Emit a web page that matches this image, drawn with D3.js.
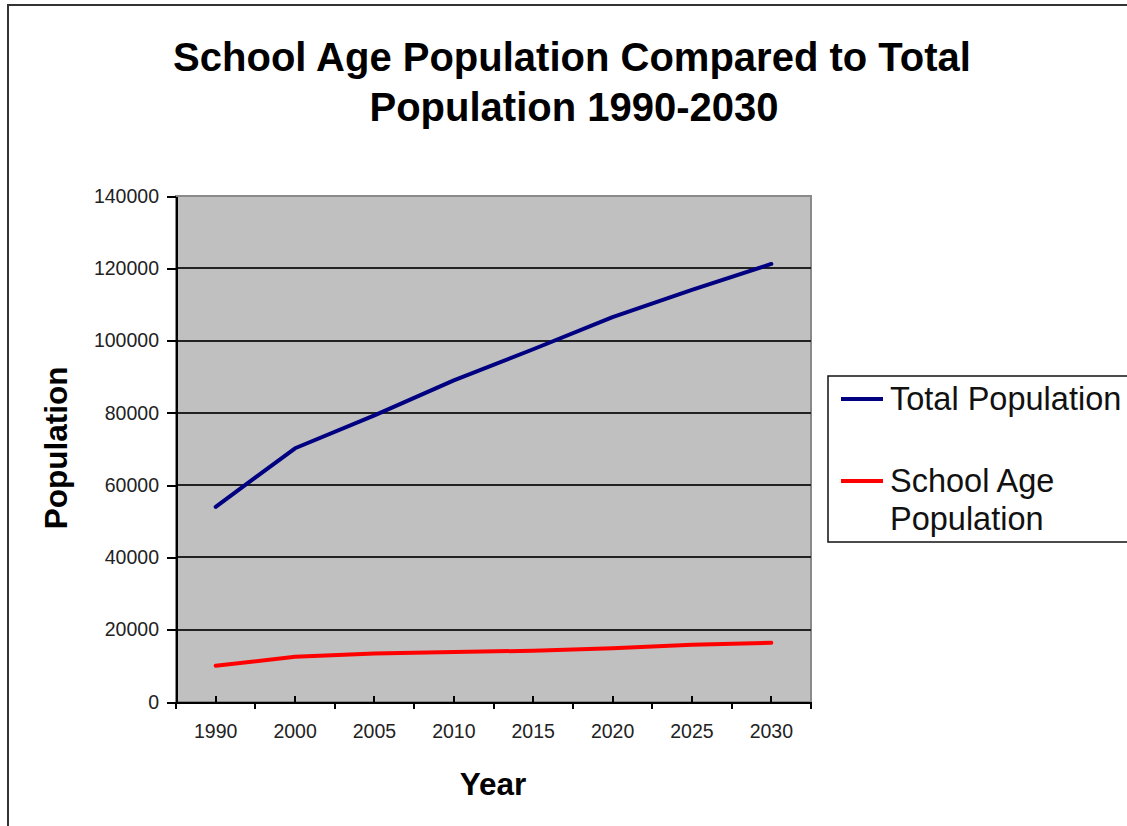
<!DOCTYPE html>
<meta charset="utf-8">
<style>
body {
  margin: 0;
  background-color: #fff;
}
.axis text {
  font-family: "Liberation Sans", Arial, sans-serif;
  font-size: 19.5px;
  fill: #222;
}
.axis path,
.axis line {
  stroke: #000;
  stroke-width: 2px;
  shape-rendering: crispEdges;
}
.grid line {
  stroke: #222;
  stroke-width: 2px;
  shape-rendering: crispEdges;
}
.line {
  fill: none;
  stroke-width: 4px;
  stroke-linejoin: round;
  stroke-linecap: round;
}
.title {
  font-family: "Liberation Sans", Arial, sans-serif;
  font-weight: bold;
  fill: #000;
}
.legend text {
  font-family: "Liberation Sans", Arial, sans-serif;
  font-size: 32.5px;
  fill: #111;
}
</style>
<body>
<script src="https://d3js.org/d3.v7.min.js"></script>
<script>
// School age population vs total population, 1990-2030
var years = ["1990", "2000", "2005", "2010", "2015", "2020", "2025", "2030"];
var totalPop = [54000, 70200, 79300, 89000, 97600, 106500, 114000, 121200];
var schoolPop = [10050, 12500, 13400, 13800, 14200, 14900, 15850, 16400];
var yTicks = [0, 20000, 40000, 60000, 80000, 100000, 120000, 140000];
var seriesNames = ["Total Population", "School Age Population"];
var seriesColors = ["#000080", "#FF0000"];

var svg = d3.select("body")
    .append("svg")
    .attr("width", 1127)
    .attr("height", 826);

var plot = {left: 176, right: 811, top: 196, bottom: 702};

// outer chart border (runs off the right/bottom edges)
svg.append("rect")
    .attr("x", 8)
    .attr("y", 5)
    .attr("width", 1140)
    .attr("height", 840)
    .attr("fill", "#fff")
    .attr("stroke", "#333")
    .attr("stroke-width", 2);

var x = d3.scaleBand().domain(years).range([plot.left, plot.right]).padding(0);
var y = d3.scaleLinear().domain([0, 140000]).range([plot.bottom, plot.top]);

// plot area
svg.append("rect")
    .attr("x", plot.left)
    .attr("y", plot.top)
    .attr("width", plot.right - plot.left)
    .attr("height", plot.bottom - plot.top)
    .attr("fill", "#C0C0C0")
    .attr("stroke", "#8a8a8a")
    .attr("stroke-width", 2);

// horizontal gridlines
svg.append("g")
    .attr("class", "grid")
    .selectAll("line")
    .data(yTicks.filter(function(d) { return d > 0 && d < 140000; }))
    .enter().append("line")
      .attr("x1", plot.left)
      .attr("x2", plot.right)
      .attr("y1", function(d) { return y(d); })
      .attr("y2", function(d) { return y(d); });

// y axis
svg.append("g")
    .attr("class", "axis axis--y")
    .attr("transform", "translate(" + plot.left + ",0)")
    .call(d3.axisLeft(y).tickValues(yTicks).tickFormat(d3.format("d"))
      .tickSize(9).tickPadding(8).tickSizeOuter(0));

// x axis: labels at category centres, ticks on category boundaries
var xAxis = svg.append("g")
    .attr("class", "axis axis--x")
    .attr("transform", "translate(0," + plot.bottom + ")")
    .call(d3.axisBottom(x).tickSize(0).tickPadding(22).tickSizeOuter(0));

xAxis.selectAll(".tick line").remove();

var bounds = years.map(function(d) { return x(d); }).concat([plot.right]);
xAxis.selectAll(".bound")
    .data(bounds)
    .enter().append("line")
      .attr("class", "bound")
      .attr("x1", function(d) { return d; })
      .attr("x2", function(d) { return d; })
      .attr("y1", 0)
      .attr("y2", 7);

xAxis.selectAll(".mid")
    .data(years)
    .enter().append("line")
      .attr("class", "mid")
      .attr("x1", function(d) { return x(d) + x.bandwidth() / 2; })
      .attr("x2", function(d) { return x(d) + x.bandwidth() / 2; })
      .attr("y1", -6)
      .attr("y2", 0);

// series lines
var line = d3.line()
    .x(function(d, i) { return x(years[i]) + x.bandwidth() / 2; })
    .y(function(d) { return y(d); });

[totalPop, schoolPop].forEach(function(series, k) {
  svg.append("path")
      .datum(series)
      .attr("class", "line")
      .attr("stroke", seriesColors[k])
      .attr("d", line);
});

// titles
svg.append("text")
    .attr("class", "title")
    .attr("x", 572)
    .attr("y", 71)
    .attr("text-anchor", "middle")
    .style("font-size", "40px")
    .text("School Age Population Compared to Total");

svg.append("text")
    .attr("class", "title")
    .attr("x", 574)
    .attr("y", 121)
    .attr("text-anchor", "middle")
    .style("font-size", "40px")
    .text("Population 1990-2030");

svg.append("text")
    .attr("class", "title")
    .attr("transform", "translate(67,448) rotate(-90)")
    .attr("text-anchor", "middle")
    .style("font-size", "31.5px")
    .text("Population");

svg.append("text")
    .attr("class", "title")
    .attr("x", 493)
    .attr("y", 795)
    .attr("text-anchor", "middle")
    .style("font-size", "31.5px")
    .text("Year");

// legend
var legend = svg.append("g").attr("class", "legend");

legend.append("rect")
    .attr("x", 828)
    .attr("y", 376)
    .attr("width", 320)
    .attr("height", 166)
    .attr("fill", "#fff")
    .attr("stroke", "#111")
    .attr("stroke-width", 1.5);

var legendRows = [
  {y: 399, lines: ["Total Population"]},
  {y: 481, lines: ["School Age", "Population"]}
];

legendRows.forEach(function(r, k) {
  legend.append("line")
      .attr("x1", 841)
      .attr("x2", 883)
      .attr("y1", r.y)
      .attr("y2", r.y)
      .attr("stroke", seriesColors[k])
      .attr("stroke-width", 4);
  var t = legend.append("text")
      .attr("x", 890)
      .attr("y", r.y + 11);
  r.lines.forEach(function(s, j) {
    t.append("tspan")
        .attr("x", 890)
        .attr("dy", j === 0 ? 0 : 38)
        .text(s);
  });
});
</script>
</body>
